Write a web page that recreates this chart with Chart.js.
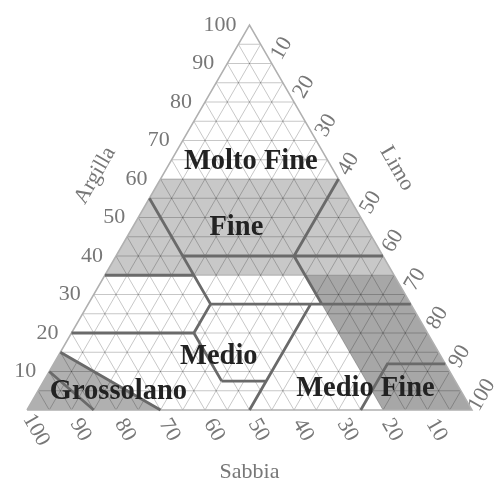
<!DOCTYPE html>
<html><head><meta charset="utf-8">
<script src="https://cdn.jsdelivr.net/npm/chart.js@4/dist/chart.umd.min.js"></script>
<style>html,body{margin:0;padding:0;background:#fff}#wrap{width:502px;height:485px;position:relative}</style>
</head><body><div id="wrap"><canvas id="c"></canvas></div>
<script>
// ---- data (percentages; points given as [sand, clay], silt = 100 - sand - clay) ----
const gridSteps = [5,10,15,20,25,30,35,40,45,50,55,60,65,70,75,80,85,90,95];
const clayTicks = [10,20,30,40,50,60,70,80,90,100];
const siltTicks = [10,20,30,40,50,60,70,80,90,100];
const sandTicks = [100,90,80,70,60,50,40,30,20,10];
const axisTitles = ['Argilla', 'Limo', 'Sabbia'];

const fineRegion = [[40,60],[0,60],[0,35],[65,35]];
const medioFineRegion = [[20,35],[0,35],[0,0],[20,0]];
const grossolanoRegion = [[100,0],[85,15],[70,0]];
const outline = [[100,0],[0,100],[0,0],[100,0]];

const boundaryLines = [
  [[0,60],[20,40]],
  [[45,40],[0,40]],
  [[45,55],[45,27.5]],
  [[20,40],[20,27.5]],
  [[65,35],[45,35]],
  [[45,27.5],[0,27.5]],
  [[45,27.5],[52.5,20]],
  [[80,20],[52.5,20]],
  [[52.5,20],[52.5,7.5]],
  [[52.5,7.5],[42.5,7.5]],
  [[22.5,27.5],[50,0]],
  [[85,15],[70,0]],
  [[90,10],[85,0]],
  [[25,0],[13,12],[0,12]]
];

const classNames = ['Molto Fine','Fine','Medio','Medio Fine','Grossolano'];
const classLabelSand = [17.5, 29.3, 50, 21.2, 77.1];
const classLabelClay = [64.4, 47.3, 13.8, 5.5, 4.7];

// ---- helpers ----
const H = Math.sqrt(3) / 2;
function toXY(sand, clay) { const silt = 100 - sand - clay; return {x: silt + clay / 2, y: clay * H}; }
function poly(arr) { return arr.map(p => toXY(p[0], p[1])); }
function gridData() {
  const out = [];
  gridSteps.forEach(v => {
    out.push(toXY(100 - v, v), toXY(0, v), {x: null, y: null});      // constant clay
    out.push(toXY(v, 0), toXY(v, 100 - v), {x: null, y: null});      // constant sand
    out.push(toXY(100 - v, 0), toXY(0, 100 - v), {x: null, y: null});// constant silt
  });
  return out;
}
function multiLine(lines) {
  const out = [];
  lines.forEach(l => { l.forEach(p => out.push(toXY(p[0], p[1]))); out.push({x: null, y: null}); });
  return out;
}

const base = {showLine: true, pointRadius: 0, tension: 0, clip: false, spanGaps: false};
const datasets = [
  Object.assign({}, base, {data: poly(fineRegion), fill: 'shape', backgroundColor: '#c8c8c8', borderWidth: 0, order: 10}),
  Object.assign({}, base, {data: poly(medioFineRegion), fill: 'shape', backgroundColor: '#a7a7a7', borderWidth: 0, order: 9}),
  Object.assign({}, base, {data: poly(grossolanoRegion), fill: 'shape', backgroundColor: '#b0b0b0', borderWidth: 0, order: 8}),
  Object.assign({}, base, {data: gridData(), fill: false, borderColor: 'rgba(0,0,0,0.22)', borderWidth: 1, order: 5}),
  Object.assign({}, base, {data: poly(outline), fill: false, borderColor: '#b0b0b0', borderWidth: 1.5, order: 4}),
  Object.assign({}, base, {data: multiLine(boundaryLines), fill: false, borderColor: '#6a6a6a', borderWidth: 2.8, order: 1})
];

const textPlugin = {
  id: 'ternaryText',
  afterDatasetsDraw(chart) {
    const ctx = chart.ctx, xs = chart.scales.x, ys = chart.scales.y;
    const px = (sand, clay) => { const p = toXY(sand, clay); return [xs.getPixelForValue(p.x), ys.getPixelForValue(p.y)]; };
    ctx.save();
    // tick labels
    ctx.fillStyle = '#777';
    ctx.font = '22px "Liberation Serif", serif';
    ctx.textBaseline = 'middle';
    ctx.textAlign = 'right';
    clayTicks.forEach(c => { const [x, y] = px(100 - c, c); ctx.fillText(String(c), x - 13, y); });
    ctx.textAlign = 'center';
    siltTicks.forEach(s => {
      const [x, y] = px(0, 100 - s);
      ctx.save(); ctx.translate(x + 10, y - 15); ctx.rotate(-Math.PI / 3); ctx.fillText(String(s), 0, 0); ctx.restore();
    });
    sandTicks.forEach(v => {
      const [x, y] = px(v, 0);
      ctx.save(); ctx.translate(x + 9, y + 20); ctx.rotate(Math.PI / 3); ctx.fillText(String(v), 0, 0); ctx.restore();
    });
    // axis titles
    ctx.font = '22px "Liberation Serif", serif';
    let [ax, ay] = px(50, 50);
    ctx.save(); ctx.translate(ax - 43, ay - 42); ctx.rotate(-Math.PI / 3); ctx.fillText(axisTitles[0], 0, 0); ctx.restore();
    [ax, ay] = px(0, 50);
    ctx.save(); ctx.translate(ax + 36, ay - 49); ctx.rotate(Math.PI / 3); ctx.fillText(axisTitles[1], 0, 0); ctx.restore();
    [ax, ay] = px(50, 0);
    ctx.fillText(axisTitles[2], ax, ay + 62);
    // class labels
    ctx.font = 'bold 28.5px "Liberation Serif", serif';
    ctx.fillStyle = '#222';
    classNames.forEach((n, i) => { const [x, y] = px(classLabelSand[i], classLabelClay[i]); ctx.fillText(n, x, y); });
    ctx.restore();
  }
};

new Chart(document.getElementById('c'), {
  type: 'scatter',
  data: {datasets},
  options: {
    responsive: true, maintainAspectRatio: false, animation: false, events: [],
    layout: {padding: {left: 27, right: 30, top: 25, bottom: 75}},
    scales: {
      x: {type: 'linear', min: 0, max: 100, display: false},
      y: {type: 'linear', min: 0, max: 100 * H, display: false}
    },
    plugins: {legend: {display: false}, tooltip: {enabled: false}}
  },
  plugins: [textPlugin]
});
</script></body></html>
